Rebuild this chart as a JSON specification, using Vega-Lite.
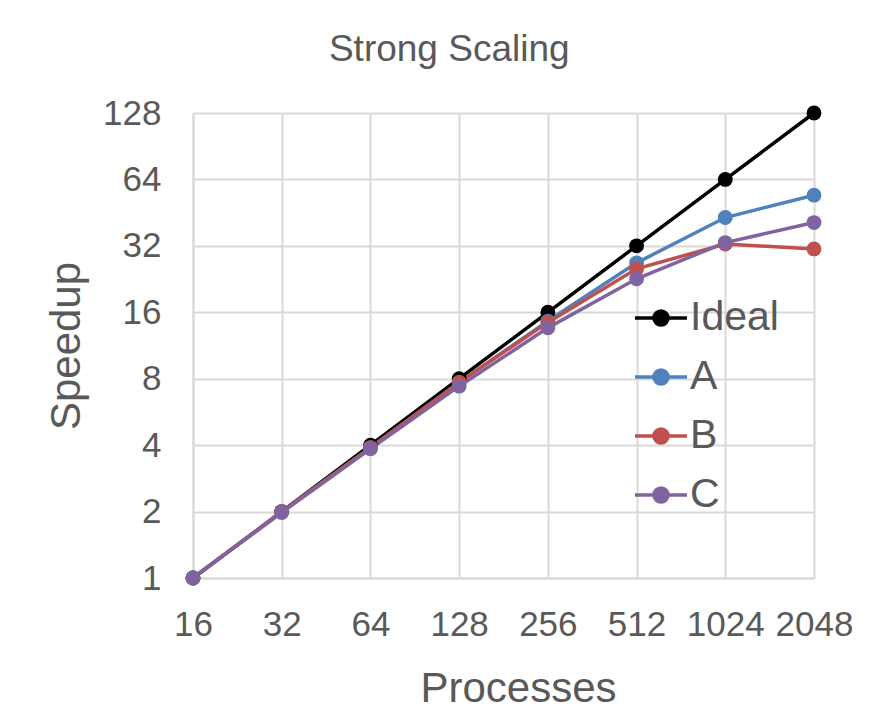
{
  "$schema": "https://vega.github.io/schema/vega-lite/v6.json",
  "autosize": {"type": "none"},
  "padding": {"left": 193, "top": 113, "right": 72, "bottom": 149},
  "width": 621,
  "height": 465,
  "background": "white",
  "title": {
    "text": "Strong Scaling",
    "font": "Liberation Sans",
    "fontSize": 37,
    "fontWeight": "normal",
    "color": "#595959",
    "anchor": "middle",
    "frame": "bounds",
    "offset": 27
  },
  "data": {
    "values": [
      {"p": 16, "s": 1, "series": "Ideal"},
      {"p": 32, "s": 2, "series": "Ideal"},
      {"p": 64, "s": 4, "series": "Ideal"},
      {"p": 128, "s": 8, "series": "Ideal"},
      {"p": 256, "s": 16, "series": "Ideal"},
      {"p": 512, "s": 32, "series": "Ideal"},
      {"p": 1024, "s": 64, "series": "Ideal"},
      {"p": 2048, "s": 128, "series": "Ideal"},
      {"p": 16, "s": 1, "series": "A"},
      {"p": 32, "s": 2, "series": "A"},
      {"p": 64, "s": 3.9, "series": "A"},
      {"p": 128, "s": 7.7, "series": "A"},
      {"p": 256, "s": 14.6, "series": "A"},
      {"p": 512, "s": 26.8, "series": "A"},
      {"p": 1024, "s": 43, "series": "A"},
      {"p": 2048, "s": 54.3, "series": "A"},
      {"p": 16, "s": 1, "series": "B"},
      {"p": 32, "s": 2, "series": "B"},
      {"p": 64, "s": 3.9, "series": "B"},
      {"p": 128, "s": 7.7, "series": "B"},
      {"p": 256, "s": 14.4, "series": "B"},
      {"p": 512, "s": 25.2, "series": "B"},
      {"p": 1024, "s": 32.6, "series": "B"},
      {"p": 2048, "s": 31, "series": "B"},
      {"p": 16, "s": 1, "series": "C"},
      {"p": 32, "s": 1.98, "series": "C"},
      {"p": 64, "s": 3.85, "series": "C"},
      {"p": 128, "s": 7.4, "series": "C"},
      {"p": 256, "s": 13.6, "series": "C"},
      {"p": 512, "s": 22.7, "series": "C"},
      {"p": 1024, "s": 33.1, "series": "C"},
      {"p": 2048, "s": 40.8, "series": "C"}
    ]
  },
  "mark": {"type": "line", "strokeWidth": 3.5, "point": {"filled": true, "size": 220, "opacity": 1}},
  "encoding": {
    "x": {
      "field": "p",
      "type": "quantitative",
      "scale": {"type": "log", "base": 2, "domain": [16, 2048], "nice": false},
      "axis": {
        "title": "Processes",
        "titleX": 325,
        "values": [16, 32, 64, 128, 256, 512, 1024, 2048],
        "format": "d",
        "labelFont": "Liberation Sans",
        "labelFontSize": 35,
        "labelColor": "#595959",
        "labelPadding": 29,
        "labelFlush": false,
        "labelOverlap": false,
        "ticks": false,
        "domainColor": "#d9d9d9",
        "domainWidth": 2,
        "gridColor": "#d9d9d9",
        "gridWidth": 2,
        "titleFont": "Liberation Sans",
        "titleFontSize": 42,
        "titleFontWeight": "normal",
        "titleColor": "#595959",
        "titlePadding": 26
      }
    },
    "y": {
      "field": "s",
      "type": "quantitative",
      "scale": {"type": "log", "base": 2, "domain": [1, 128], "nice": false},
      "axis": {
        "title": "Speedup",
        "values": [1, 2, 4, 8, 16, 32, 64, 128],
        "format": "d",
        "labelFont": "Liberation Sans",
        "labelFontSize": 35,
        "labelColor": "#595959",
        "labelPadding": 32,
        "labelFlush": false,
        "labelOverlap": false,
        "ticks": false,
        "domainColor": "#d9d9d9",
        "domainWidth": 2,
        "gridColor": "#d9d9d9",
        "gridWidth": 2,
        "titleFont": "Liberation Sans",
        "titleFontSize": 42,
        "titleFontWeight": "normal",
        "titleColor": "#595959",
        "titlePadding": 14
      }
    },
    "color": {
      "field": "series",
      "type": "nominal",
      "sort": ["Ideal", "A", "B", "C"],
      "scale": {"domain": ["Ideal", "A", "B", "C"], "range": ["#000000", "#4f81bd", "#c0504d", "#8064a2"]},
      "legend": {
        "title": null,
        "orient": "none",
        "legendX": 440,
        "legendY": 177,
        "symbolType": "M-1,0L1,0M-0.27,0A0.27,0.27 0 1,1 0.27,0A0.27,0.27 0 1,1 -0.27,0Z",
        "symbolSize": 2704,
        "symbolStrokeWidth": 3.5,
        "symbolOpacity": 1,
        "labelFont": "Liberation Sans",
        "labelFontSize": 41,
        "labelColor": "#595959",
        "labelOffset": 1,
        "rowPadding": 11
      }
    },
    "order": {"field": "p", "type": "quantitative"}
  },
  "config": {"view": {"stroke": null}}
}
